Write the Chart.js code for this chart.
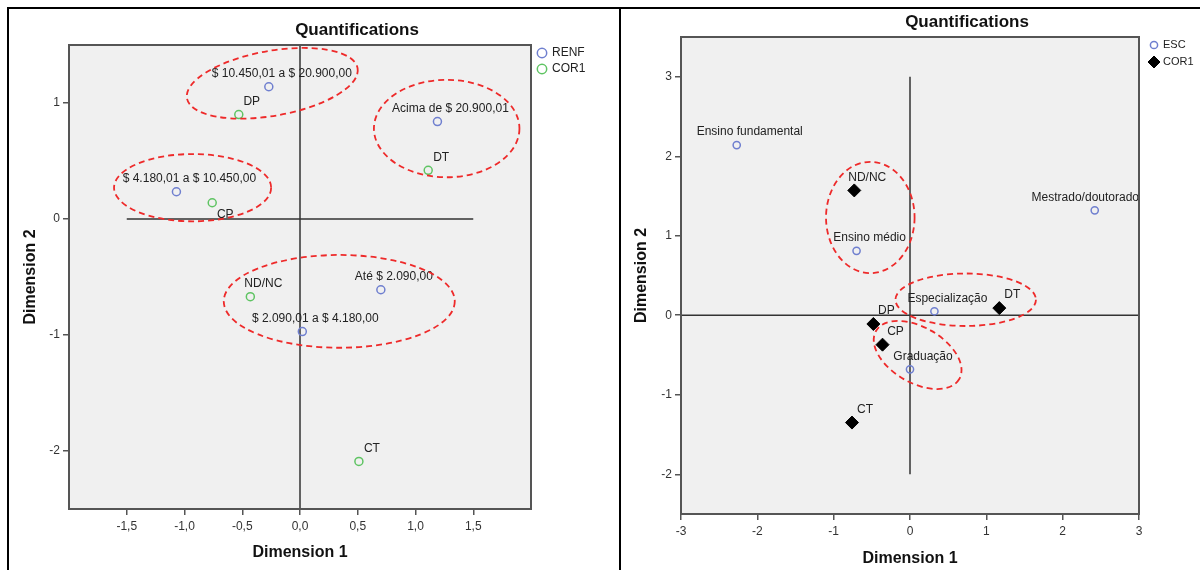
<!DOCTYPE html>
<html>
<head>
<meta charset="utf-8">
<script src="https://cdn.jsdelivr.net/npm/chart.js@4.4.1/dist/chart.umd.min.js"></script>
<style>
  body { margin: 0; background: #fff; width: 1200px; height: 570px; position: relative; overflow: hidden; }
  .panel { position: absolute; top: 7px; bottom: 0; border-top: 2px solid #000; border-left: 2px solid #000; }
  #p1 { left: 7px; width: 610px; }
  #p2 { left: 619px; right: 0; }
  canvas { position: absolute; }
</style>
</head>
<body>
<div class="panel" id="p1"></div>
<div class="panel" id="p2"></div>
<canvas id="renf" width="608" height="561" style="left:10px;top:9px;width:608px;height:561px"></canvas>
<canvas id="esc" width="578" height="561" style="left:622px;top:9px;width:578px;height:561px"></canvas>
<script>
// left plot: RENF x COR1
const renfLabels = ['$ 10.450,01 a $ 20.900,00', 'Acima de $ 20.900,01', '$ 4.180,01 a $ 10.450,00', 'Até $ 2.090,00', '$ 2.090,01 a $ 4.180,00'];
const renfDim1 = [-0.27, 1.19, -1.07, 0.70, 0.02];
const renfDim2 = [1.14, 0.84, 0.235, -0.61, -0.97];
const cor1aLabels = ['DP', 'DT', 'CP', 'ND/NC', 'CT'];
const cor1aDim1 = [-0.53, 1.11, -0.76, -0.43, 0.51];
const cor1aDim2 = [0.90, 0.42, 0.14, -0.67, -2.09];
const renfXTicks = [-1.5, -1, -0.5, 0, 0.5, 1, 1.5];
const renfYTicks = [-2, -1, 0, 1];
// dashed groups: [dim1, dim2, half width, half height (axis units), tilt deg]
const renfGroups = [
  [-0.24, 1.17, 0.75, 0.28, -10],
  [1.27, 0.78, 0.63, 0.42, 0],
  [-0.93, 0.27, 0.68, 0.29, 0],
  [0.34, -0.71, 1.0, 0.40, 0],
];

// right plot: ESC x COR1
const escLabels = ['Ensino fundamental', 'Mestrado/doutorado', 'Ensino médio', 'Especialização', 'Graduação'];
const escDim1 = [-2.27, 2.42, -0.70, 0.32, 0.0];
const escDim2 = [2.14, 1.32, 0.81, 0.05, -0.68];
const cor1bLabels = ['ND/NC', 'DT', 'DP', 'CP', 'CT'];
const cor1bDim1 = [-0.73, 1.17, -0.48, -0.36, -0.76];
const cor1bDim2 = [1.57, 0.09, -0.11, -0.37, -1.35];
const escXTicks = [-3, -2, -1, 0, 1, 2, 3];
const escYTicks = [-2, -1, 0, 1, 2, 3];
const escGroups = [
  [-0.52, 1.23, 0.58, 0.70, 0],
  [0.73, 0.195, 0.92, 0.33, 0],
  [0.10, -0.50, 0.63, 0.35, 30],
];

Chart.defaults.font.family = "'Liberation Sans', Arial, sans-serif";

const pts = (xs, ys) => xs.map((v, i) => ({x: v, y: ys[i]}));

const quantPlugin = {
  id: 'quant',
  beforeDraw(chart) {
    const {ctx, chartArea: a} = chart;
    ctx.save();
    ctx.fillStyle = '#f0f0f0';
    ctx.fillRect(a.left, a.top, a.width, a.height);
    ctx.restore();
  },
  afterDatasetsDraw(chart, args, opts) {
    const {ctx, chartArea: a, scales: {x, y}} = chart;
    ctx.save();
    // point labels
    ctx.font = "12px 'Liberation Sans', Arial, sans-serif";
    ctx.fillStyle = '#222';
    ctx.textAlign = 'center';
    ctx.textBaseline = 'middle';
    chart.data.datasets.forEach((ds, i) => {
      if (!ds.pointLabels) return;
      chart.getDatasetMeta(i).data.forEach((pt, j) => {
        const txt = ds.pointLabels[j];
        const w = ctx.measureText(txt).width;
        const cx = Math.min(pt.x + 13, a.right - w / 2);
        const below = (opts.below || []).includes(ds.label + ':' + txt);
        ctx.fillText(txt, cx, below ? pt.y + 12 : pt.y - 13);
      });
    });
    // dashed groupings
    ctx.strokeStyle = '#ee2a2a';
    ctx.lineWidth = 1.8;
    ctx.setLineDash([6, 4]);
    opts.groups.forEach(([gx, gy, ga, gb, rot]) => {
      const cx = x.getPixelForValue(gx), cy = y.getPixelForValue(gy);
      const rx = Math.abs(x.getPixelForValue(gx + ga) - cx);
      const ry = Math.abs(y.getPixelForValue(gy + gb) - cy);
      ctx.beginPath();
      ctx.ellipse(cx, cy, rx, ry, rot * Math.PI / 180, 0, 2 * Math.PI);
      ctx.stroke();
    });
    ctx.setLineDash([]);
    // frame
    ctx.strokeStyle = '#555';
    ctx.lineWidth = 2;
    ctx.strokeRect(a.left, a.top, a.width, a.height);
    // title
    ctx.fillStyle = '#111';
    ctx.font = "bold 17px 'Liberation Sans', Arial, sans-serif";
    ctx.fillText('Quantifications', (a.left + a.right) / 2 + 57, a.top - 15);
    // legend
    const lg = opts.legend;
    ctx.font = lg.size + "px 'Liberation Sans', Arial, sans-serif";
    ctx.textAlign = 'left';
    let ly = a.top + lg.dy;
    chart.data.datasets.forEach(ds => {
      if (!ds.pointLabels) return;
      const lx = a.right + lg.dx;
      ctx.strokeStyle = ds.pointBorderColor;
      ctx.fillStyle = ds.pointBackgroundColor;
      ctx.lineWidth = ds.pointBorderWidth;
      Chart.helpers.drawPoint(ctx, {pointStyle: ds.pointStyle, radius: ds.legendRadius, rotation: 0, borderWidth: ds.pointBorderWidth}, lx, ly);
      ctx.fillStyle = '#222';
      ctx.fillText(ds.label, lx + lg.text, ly);
      ly += lg.step;
    });
    ctx.restore();
  }
};

function axis(min, max, ticks, fmt, title, size, tpad, pos) {
  const horiz = pos === 'bottom';
  return {
    type: 'linear', position: pos, min: min, max: max,
    afterBuildTicks: s => { s.ticks = ticks.map(v => ({value: v})); },
    afterFit: s => { if (horiz) s.height = size; else s.width = size; },
    ticks: { callback: fmt, color: '#333', font: {size: 12}, padding: horiz ? 4 : 3, autoSkip: false, maxRotation: 0 },
    grid: { drawOnChartArea: false, drawTicks: true, tickLength: 6, color: '#555', lineWidth: 1.5 },
    border: { display: false },
    title: { display: true, text: title, color: '#111', font: {size: 16, weight: 'bold'}, padding: {top: 0, bottom: tpad} },
  };
}

const oneDec = v => v.toFixed(1).replace('.', ',');
const whole = v => String(v);

function refLine(a, b) {
  return { label: 'ref', data: [a, b], showLine: true, pointRadius: 0, borderColor: '#333', borderWidth: 1.5 };
}

const renfConfig = {
  type: 'scatter',
  data: {
    datasets: [
      { label: 'RENF', data: pts(renfDim1, renfDim2), pointLabels: renfLabels, pointStyle: 'circle', pointRadius: 4, legendRadius: 4.7,
        pointBorderColor: '#6f7fcf', pointBackgroundColor: 'rgba(0,0,0,0)', pointBorderWidth: 1.5 },
      { label: 'COR1', data: pts(cor1aDim1, cor1aDim2), pointLabels: cor1aLabels, pointStyle: 'circle', pointRadius: 4, legendRadius: 4.7,
        pointBorderColor: '#5fc463', pointBackgroundColor: 'rgba(0,0,0,0)', pointBorderWidth: 1.5 },
      refLine({x: -1.5, y: 0}, {x: 1.5, y: 0}),
      refLine({x: 0, y: -2.5}, {x: 0, y: 1.5}),
    ],
  },
  options: {
    responsive: false,
    animation: false,
    events: [],
    layout: { padding: {left: 11, right: 87, top: 36, bottom: 0} },
    scales: {
      x: axis(-2, 2, renfXTicks, oneDec, 'Dimension 1', 61, 8, 'bottom'),
      y: axis(-2.5, 1.5, renfYTicks, whole, 'Dimension 2', 48, 0, 'left'),
    },
    plugins: {
      legend: { display: false },
      tooltip: { enabled: false },
      quant: { groups: renfGroups, below: ['COR1:CP'], legend: {dx: 11, dy: 8, step: 16, text: 10, size: 12} },
    },
  },
  plugins: [quantPlugin],
};

const escConfig = {
  type: 'scatter',
  data: {
    datasets: [
      { label: 'ESC', data: pts(escDim1, escDim2), pointLabels: escLabels, pointStyle: 'circle', pointRadius: 3.6, legendRadius: 3.6,
        pointBorderColor: '#6f7fcf', pointBackgroundColor: 'rgba(0,0,0,0)', pointBorderWidth: 1.5 },
      { label: 'COR1', data: pts(cor1bDim1, cor1bDim2), pointLabels: cor1bLabels, pointStyle: 'rectRot', pointRadius: 6.5, legendRadius: 6,
        pointBorderColor: '#000', pointBackgroundColor: '#000', pointBorderWidth: 1 },
      refLine({x: -3, y: 0}, {x: 3, y: 0}),
      refLine({x: 0, y: -2}, {x: 0, y: 3}),
    ],
  },
  options: {
    responsive: false,
    animation: false,
    events: [],
    layout: { padding: {left: 10, right: 61, top: 28, bottom: 0} },
    scales: {
      x: axis(-3, 3, escXTicks, whole, 'Dimension 1', 56, 2, 'bottom'),
      y: axis(-2.5, 3.5, escYTicks, whole, 'Dimension 2', 49, 0, 'left'),
    },
    plugins: {
      legend: { display: false },
      tooltip: { enabled: false },
      quant: { groups: escGroups, legend: {dx: 15, dy: 8, step: 17, text: 9, size: 11} },
    },
  },
  plugins: [quantPlugin],
};

window.renfChart = new Chart(document.getElementById('renf'), renfConfig);
window.escChart = new Chart(document.getElementById('esc'), escConfig);
</script>
</body>
</html>
